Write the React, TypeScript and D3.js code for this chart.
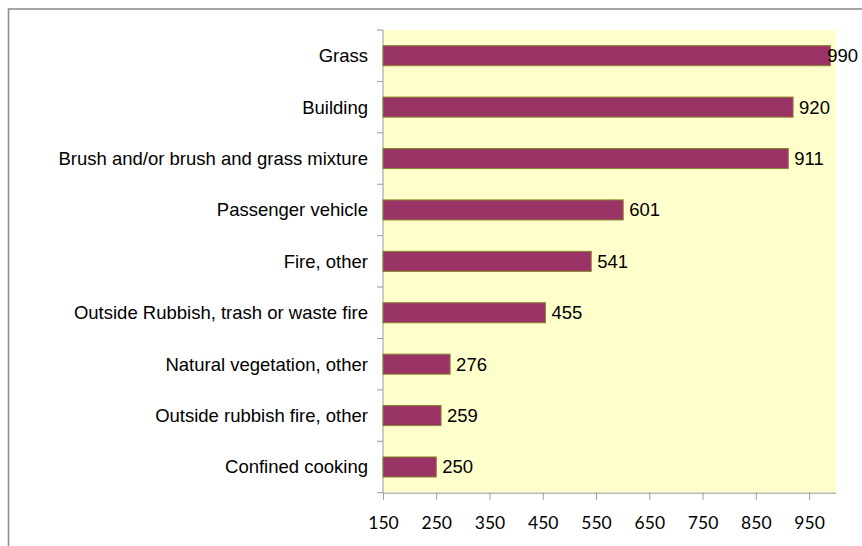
import React, { useEffect, useRef } from "react";
import * as d3 from "d3";

const categories = [
  "Grass",
  "Building",
  "Brush and/or brush and grass mixture",
  "Passenger vehicle",
  "Fire, other",
  "Outside Rubbish, trash or waste fire",
  "Natural vegetation, other",
  "Outside rubbish fire, other",
  "Confined cooking"
];
const values = [990, 920, 911, 601, 541, 455, 276, 259, 250];
const xTicks = [150, 250, 350, 450, 550, 650, 750, 850, 950];

function App() {
  const ref = useRef<SVGSVGElement>(null);

  useEffect(() => {
    drawChart();
  });

  const drawChart = () => {
    const svgWidth = 862;
    const svgHeight = 546;
    const margin = { top: 30, right: 26.3, bottom: 53.3, left: 383 };
    const width = svgWidth - margin.left - margin.right;
    const height = svgHeight - margin.top - margin.bottom;
    const labelSize = 18.5;

    const svg = d3.select(ref.current);
    svg.selectAll("*").remove();

    // chart area border (right and bottom sides fall outside the picture)
    svg
      .append("rect")
      .attr("x", 8.5)
      .attr("y", 9)
      .attr("width", 1000)
      .attr("height", 1000)
      .attr("fill", "#fff")
      .attr("stroke", "#8e8e8e")
      .attr("stroke-width", 1.6);

    const g = svg
      .append("g")
      .attr("transform", "translate(" + margin.left + "," + margin.top + ")");

    const x = d3.scaleLinear().domain([150, 1000]).range([0, width]);
    const y = d3
      .scaleBand()
      .domain(categories)
      .range([0, height])
      .paddingInner(0.61)
      .paddingOuter(0.305);

    g.append("rect")
      .attr("width", width)
      .attr("height", height)
      .attr("fill", "#ffffcc");

    // bottom axis
    const xAxis = g
      .append("g")
      .attr("transform", "translate(0," + height + ")")
      .call(
        d3
          .axisBottom(x)
          .tickValues(xTicks)
          .tickSize(7)
          .tickSizeOuter(0)
          .tickFormat(d3.format("d"))
      );
    xAxis.select(".domain").attr("stroke", "#9a9a9a");
    xAxis.selectAll(".tick line").attr("stroke", "#9a9a9a");
    xAxis
      .selectAll(".tick text")
      .attr("y", 36.8)
      .attr("dy", 0)
      .attr("fill", "#000")
      .style("font-family", "Lato, 'Open Sans', sans-serif")
      .style("font-size", "17.5px");

    // left axis: line plus ticks between categories
    const step = y.step();
    const boundaries = categories
      .map(c => (y(c) as number) - (step - y.bandwidth()) / 2)
      .concat([height]);
    g.append("line")
      .attr("x1", 0)
      .attr("x2", 0)
      .attr("y1", 0)
      .attr("y2", height)
      .attr("stroke", "#9a9a9a");
    g.append("g")
      .selectAll("line")
      .data(boundaries)
      .join("line")
      .attr("x1", -6)
      .attr("x2", 0)
      .attr("y1", d => d)
      .attr("y2", d => d)
      .attr("stroke", "#9a9a9a");

    // bars
    g.append("g")
      .selectAll("rect")
      .data(values)
      .join("rect")
      .attr("x", x(150))
      .attr("y", (d, i) => y(categories[i]) as number)
      .attr("width", d => x(d) - x(150))
      .attr("height", y.bandwidth())
      .attr("fill", "#993366")
      .attr("stroke", "#86862a")
      .attr("stroke-width", 1);

    // category labels
    g.append("g")
      .selectAll("text")
      .data(categories)
      .join("text")
      .attr("x", -15)
      .attr("y", d => (y(d) as number) + y.bandwidth() / 2)
      .attr("dy", "0.35em")
      .attr("text-anchor", "end")
      .style("font-family", "'Liberation Sans', Arial, sans-serif")
      .style("font-size", labelSize + "px")
      .text(d => d);

    // value labels, pulled back inside when they would run off the chart area
    const rightLimit = svgWidth - 4 - margin.left;
    g.append("g")
      .selectAll("text")
      .data(values)
      .join("text")
      .attr("x", d => {
        const w = String(d).length * 0.556 * labelSize;
        return Math.min(x(d) + 6, rightLimit - w);
      })
      .attr("y", (d, i) => (y(categories[i]) as number) + y.bandwidth() / 2)
      .attr("dy", "0.35em")
      .style("font-family", "'Liberation Sans', Arial, sans-serif")
      .style("font-size", labelSize + "px")
      .text(d => d);
  };

  return (
    <svg
      ref={ref}
      width={862}
      height={546}
      style={{ position: "absolute", left: 0, top: 0 }}
    />
  );
}

export default App;
